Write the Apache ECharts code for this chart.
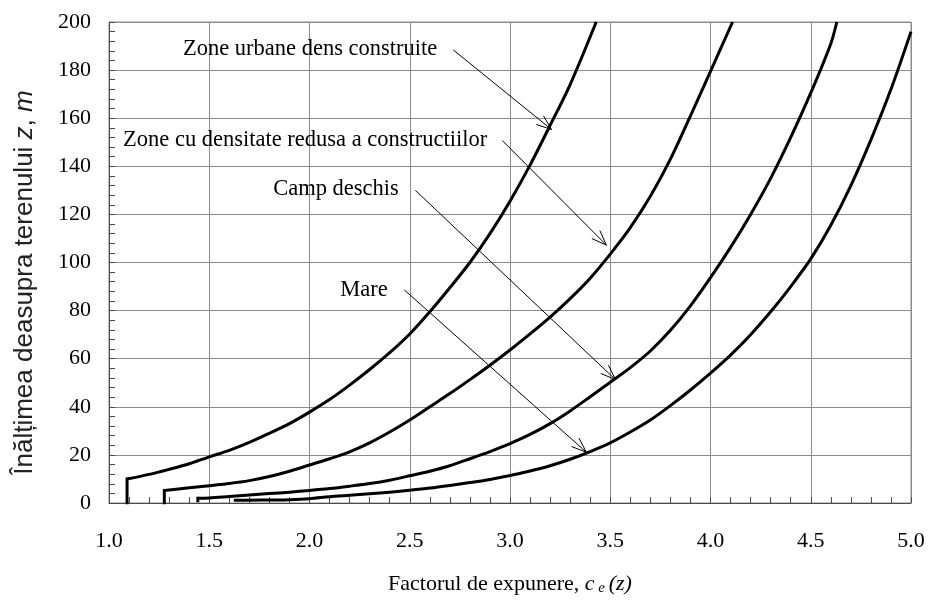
<!DOCTYPE html>
<html>
<head>
<meta charset="utf-8">
<script src="https://cdn.jsdelivr.net/npm/echarts/dist/echarts.min.js"></script>
<style>
  html, body { margin: 0; padding: 0; background: #fff; }
  #chart { width: 929px; height: 601px; }
</style>
</head>
<body>
<div id="chart"></div>
<script>
// curbele: [c_e(z), z]
const urbanPts = [[1.09, 0], [1.09, 10], [1.20, 11.9], [1.30, 14], [1.40, 16.3], [1.50, 19.2], [1.60, 21.9],
  [1.70, 25.2], [1.80, 29], [1.90, 33], [2.00, 37.8], [2.10, 43], [2.20, 49], [2.30, 55.5], [2.40, 62.5],
  [2.50, 70.3], [2.60, 79.5], [2.70, 89.5], [2.80, 100], [2.90, 112], [3.00, 125.5], [3.10, 140.5],
  [3.20, 157], [3.30, 174], [3.43, 200]]
const lowPts = [[1.276, 0], [1.276, 5.2], [1.40, 6.3], [1.50, 7.2], [1.60, 8.1], [1.70, 9.3], [1.80, 11.0],
  [1.90, 13.2], [2.00, 15.8], [2.10, 18.4], [2.20, 21.3], [2.30, 25], [2.40, 29.5], [2.50, 34.5], [2.60, 40],
  [2.70, 45.5], [2.80, 51.3], [2.90, 57.3], [3.00, 63.6], [3.10, 70.3], [3.20, 77.3], [3.30, 85],
  [3.40, 93.5], [3.50, 103.5], [3.60, 114.5], [3.70, 127.5], [3.80, 143], [3.90, 161], [4.00, 179.5],
  [4.11, 200]]
const openPts = [[1.443, 0.9], [1.443, 2.0], [1.50, 2.1], [1.60, 2.7], [1.70, 3.3], [1.80, 3.9], [1.90, 4.5],
  [2.00, 5.2], [2.10, 6.0], [2.20, 7.0], [2.30, 8.1], [2.40, 9.5], [2.50, 11.3], [2.60, 13.2], [2.70, 15.5],
  [2.80, 18.4], [2.90, 21.4], [3.00, 24.7], [3.10, 28.5], [3.20, 33], [3.30, 38.3], [3.40, 44.2],
  [3.50, 50.2], [3.60, 56.3], [3.70, 63.2], [3.80, 71.8], [3.90, 82], [4.00, 93.7], [4.10, 106.3],
  [4.20, 120], [4.30, 135], [4.40, 152], [4.50, 170.5], [4.60, 191], [4.63, 200]]
const seaPts = [[1.63, 1.1], [1.70, 1.15], [1.80, 1.25], [1.90, 1.4], [2.00, 1.8], [2.10, 2.6], [2.20, 3.2],
  [2.30, 3.8], [2.40, 4.5], [2.50, 5.3], [2.60, 6.2], [2.70, 7.3], [2.80, 8.5], [2.90, 9.8], [3.00, 11.4],
  [3.10, 13.3], [3.20, 15.5], [3.30, 18.2], [3.40, 21.4], [3.50, 25], [3.60, 29.5], [3.70, 34.5],
  [3.80, 40.5], [3.90, 47], [4.00, 54], [4.10, 61.5], [4.20, 70], [4.30, 79.5], [4.40, 90], [4.50, 101.5],
  [4.60, 115.5], [4.70, 132], [4.80, 151], [4.90, 172], [5.00, 196]]

const xTickLabels = ['1.0', '1.5', '2.0', '2.5', '3.0', '3.5', '4.0', '4.5', '5.0']

// etichete: text + punctul de inceput (stanga, mijloc)
const labelTexts = ['Zone urbane dens construite', 'Zone cu densitate redusa a constructiilor', 'Camp deschis', 'Mare']
const labelPos = [[1.369, 188.8], [1.070, 150.7], [1.819, 130.4], [2.153, 88.6]]
// sageti: [x1, z1, x2, z2]
const arrows = [
  [2.717, 188.4, 3.207, 155.3],
  [2.962, 150.7, 3.481, 107.2],
  [2.528, 130.0, 3.526, 51.3],
  [2.473, 88.6, 3.381, 21.1]
]

const serif = '"Liberation Serif", "Times New Roman", serif'
const sans = '"Liberation Sans", Arial, sans-serif'
const gridColor = '#8c8c8c'
const axisColor = '#4a4a4a'

let series = []
;[urbanPts, lowPts, openPts, seaPts].forEach(pts => {
  // tronsonul initial drept
  series.push({
    type: 'line',
    data: pts.slice(0, 2),
    showSymbol: false,
    smooth: false,
    lineStyle: { color: '#000', width: 3, cap: 'square' },
    z: 3
  })
  series.push({
    type: 'line',
    data: pts.slice(1),
    showSymbol: false,
    smooth: 0.3,
    lineStyle: { color: '#000', width: 3, join: 'round' },
    z: 3
  })
})

series.push({
  type: 'custom',
  data: arrows,
  encode: { x: [0, 2], y: [1, 3] },
  silent: true,
  z: 4,
  renderItem: function(params, api) {
    const a = api.coord([api.value(0), api.value(1)])
    const b = api.coord([api.value(2), api.value(3)])
    const ang = Math.atan2(b[1] - a[1], b[0] - a[0])
    const L = 16
    const w = 0.36
    const h1 = [b[0] - L * Math.cos(ang - w), b[1] - L * Math.sin(ang - w)]
    const h2 = [b[0] - L * Math.cos(ang + w), b[1] - L * Math.sin(ang + w)]
    return {
      type: 'group',
      children: [
        { type: 'line', shape: { x1: a[0], y1: a[1], x2: b[0], y2: b[1] }, style: { stroke: '#000', lineWidth: 1 } },
        { type: 'polyline', shape: { points: [h1, b, h2] }, style: { stroke: '#000', fill: null, lineWidth: 1 } }
      ]
    }
  }
})

series.push({
  type: 'custom',
  data: labelPos,
  silent: true,
  z: 4,
  renderItem: function(params, api) {
    const p = api.coord([api.value(0), api.value(1)])
    return {
      type: 'text',
      x: p[0],
      y: p[1],
      style: {
        text: labelTexts[params.dataIndex],
        font: '22.5px ' + serif,
        fill: '#000',
        align: 'left',
        verticalAlign: 'middle',
        textAlign: 'left',
        textVerticalAlign: 'middle'
      }
    }
  }
})

const myChart = echarts.init(document.getElementById('chart'))
const option = {
  animation: false,
  backgroundColor: '#fff',
  grid: {
    left: 109,
    right: 18,
    top: 22,
    bottom: 96,
    show: true,
    borderColor: gridColor,
    borderWidth: 1
  },
  xAxis: {
    type: 'value',
    min: 1,
    max: 5,
    interval: 0.5,
    axisLine: { show: true, onZero: false, lineStyle: { color: axisColor, width: 1 } },
    axisTick: { show: true, inside: true, length: 6, lineStyle: { color: axisColor } },
    minorTick: { show: true, splitNumber: 5, length: 6, lineStyle: { color: axisColor } },
    splitLine: { show: true, lineStyle: { color: gridColor, width: 1 } },
    axisLabel: {
      margin: 27,
      color: '#000',
      fontFamily: serif,
      fontSize: 22,
      formatter: function(v) {
        const i = Math.round((v - 1) / 0.5)
        return xTickLabels[i] || ''
      }
    },
    name: '{t|Factorul de expunere, }{i|c}{s| e }{i|(z)}',
    nameLocation: 'middle',
    nameGap: 70,
    nameTextStyle: {
      rich: {
        t: { fontFamily: serif, fontSize: 22, color: '#000' },
        i: { fontFamily: serif, fontSize: 22, fontStyle: 'italic', color: '#000' },
        s: { fontFamily: serif, fontSize: 15, fontStyle: 'italic', color: '#000', padding: [8, 0, 0, 0] }
      }
    }
  },
  yAxis: {
    type: 'value',
    min: 0,
    max: 200,
    interval: 20,
    axisLine: { show: true, onZero: false, lineStyle: { color: axisColor, width: 1 } },
    axisTick: { show: true, inside: true, length: 6, lineStyle: { color: axisColor } },
    minorTick: { show: true, splitNumber: 5, length: 6, lineStyle: { color: axisColor } },
    splitLine: { show: true, lineStyle: { color: gridColor, width: 1 } },
    axisLabel: { margin: 18, color: '#000', fontFamily: serif, fontSize: 22 },
    name: '{a|Înălțimea deasupra terenului }{i|z}{a|, }{i|m}',
    nameLocation: 'middle',
    nameRotate: 90,
    nameGap: 71,
    nameTextStyle: {
      padding: [0, 40, 0, 0],
      rich: {
        a: { fontFamily: sans, fontSize: 26, color: '#222' },
        i: { fontFamily: sans, fontSize: 26, fontStyle: 'italic', color: '#222' }
      }
    }
  },
  series: series
}
myChart.setOption(option)
</script>
</body>
</html>
